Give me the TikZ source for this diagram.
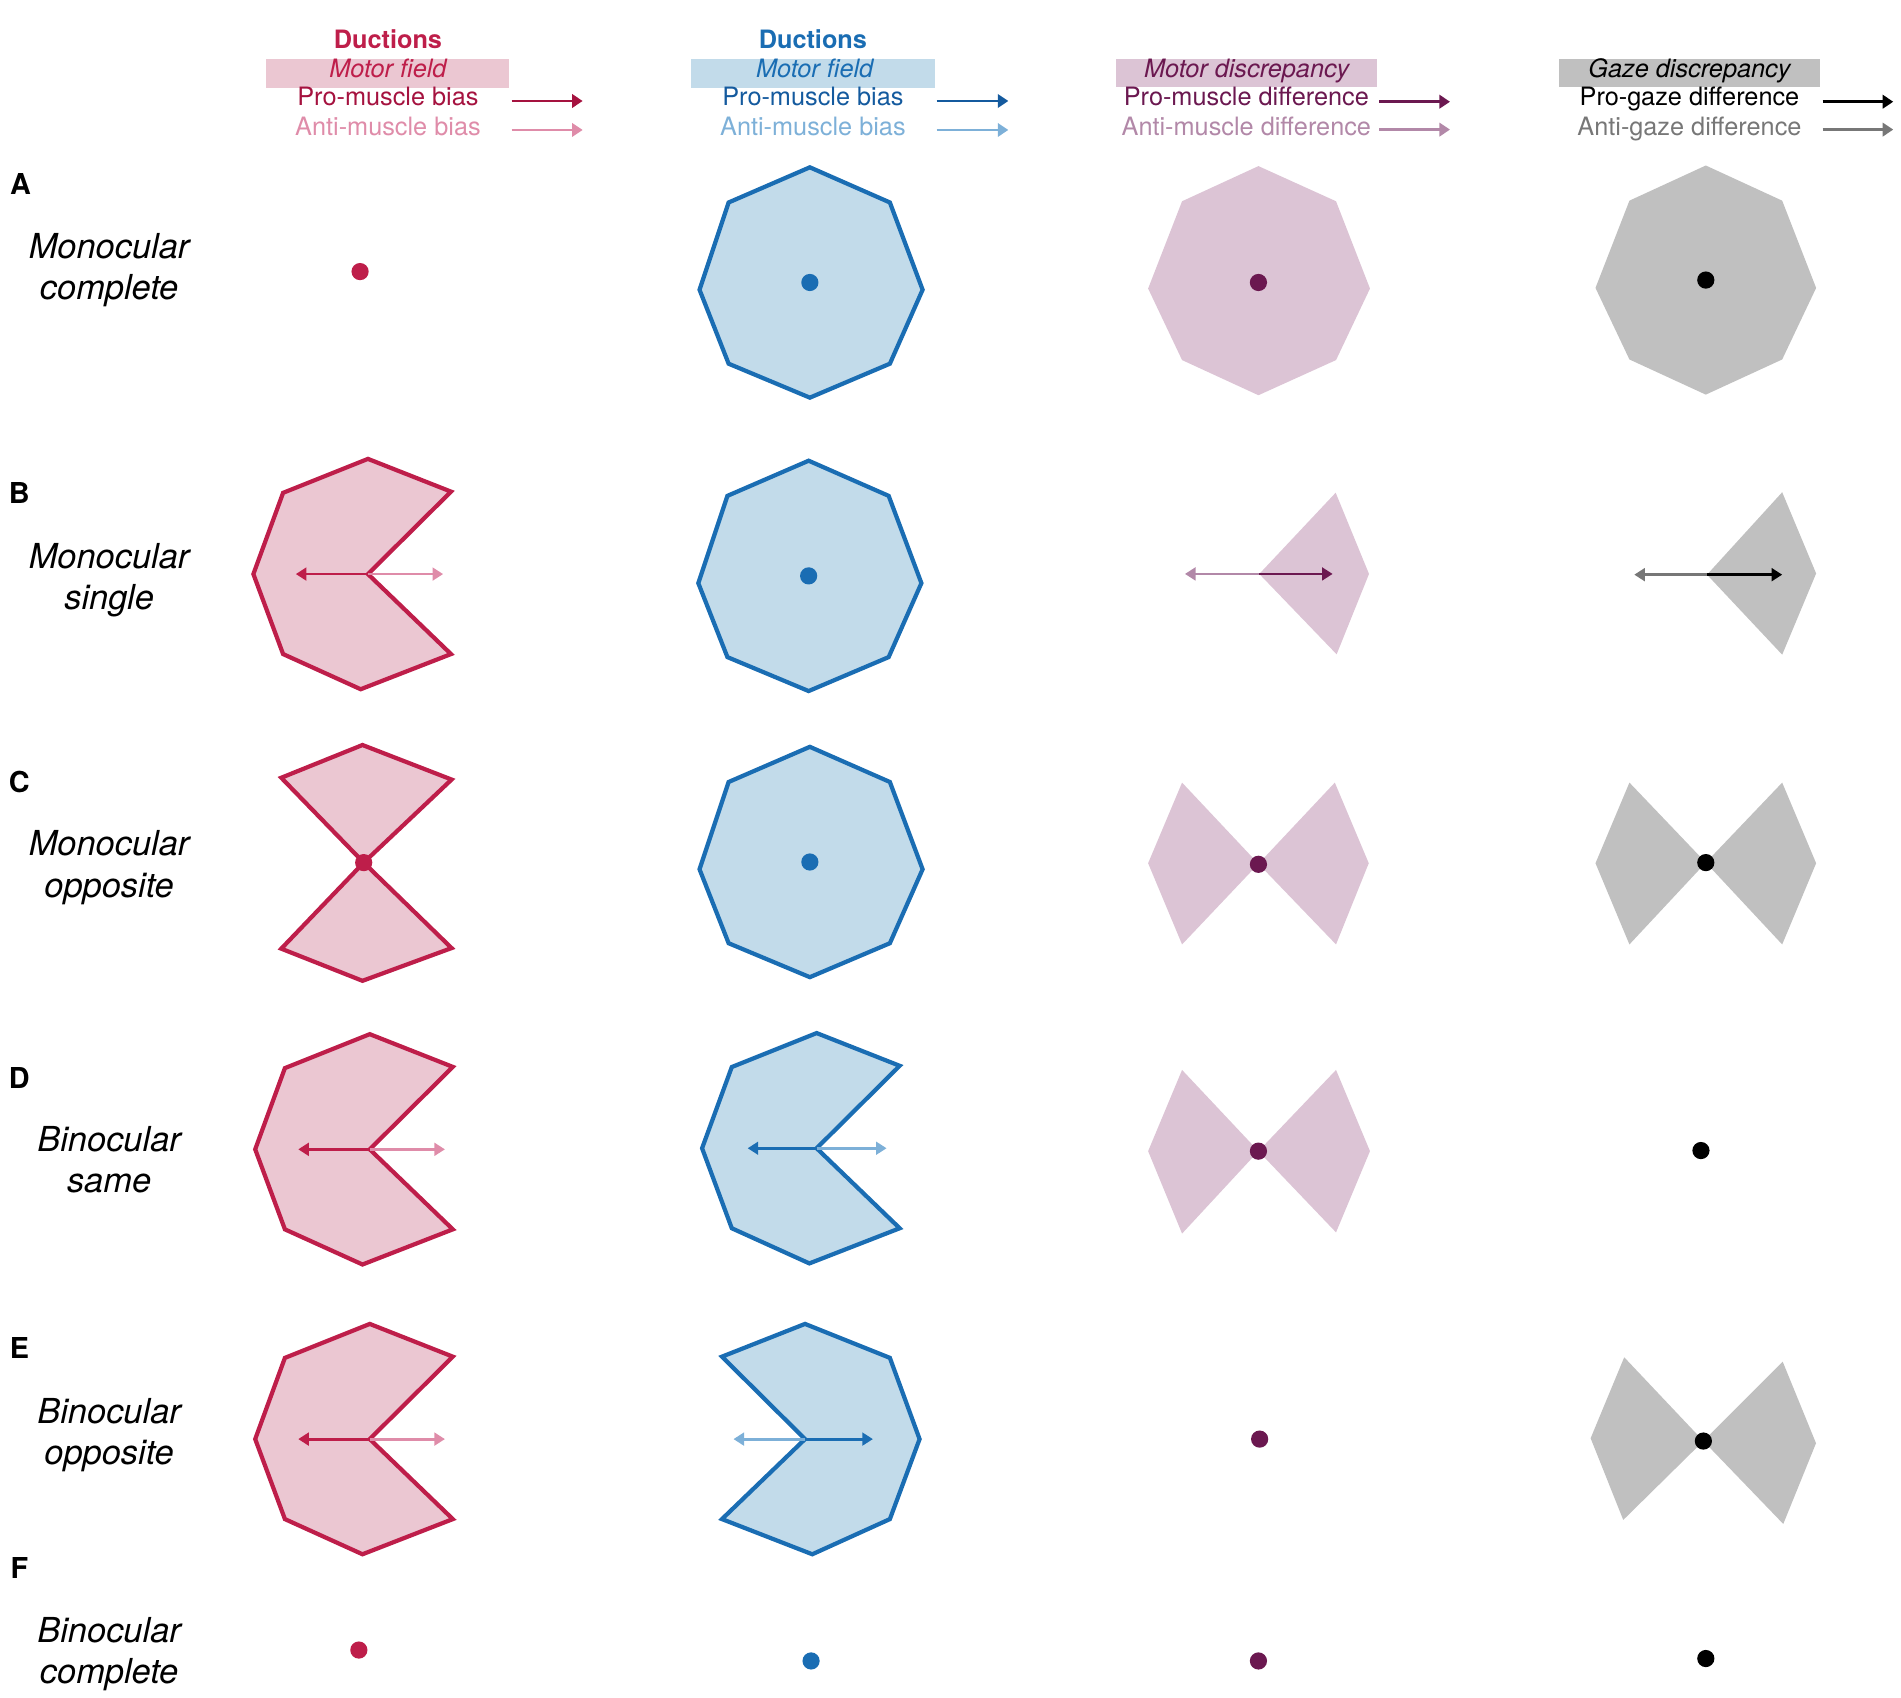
\documentclass[tikz,border=0pt]{standalone}
\usepackage{fontspec}
\setmainfont{TeX Gyre Heros}
\usetikzlibrary{arrows.meta}
\definecolor{crim}{HTML}{BE1E4A}
\definecolor{crimdark}{HTML}{A5123F}
\definecolor{crimlight}{HTML}{DF8CA9}
\definecolor{pinkfill}{HTML}{EBC7D2}
\definecolor{blu}{HTML}{1A6DB3}
\definecolor{bludark}{HTML}{145A9E}
\definecolor{blulight}{HTML}{7DB0D8}
\definecolor{blufill}{HTML}{C2DBEA}
\definecolor{purdark}{HTML}{6B1850}
\definecolor{purlight}{HTML}{B288A8}
\definecolor{purfill}{HTML}{DCC4D5}
\definecolor{gryfill}{HTML}{C0C0C0}
\definecolor{grylight}{HTML}{777777}
\begin{document}
\begin{tikzpicture}[x=0.012124cm,y=-0.012124cm,
  hdr/.style={font=\fontsize{7.2}{8}\selectfont, anchor=base, inner sep=0pt},
  hdrb/.style={hdr, font=\fontsize{7.2}{8}\selectfont\bfseries},
  hdri/.style={hdr, font=\fontsize{7.2}{8}\selectfont\itshape},
  harrow/.style={line width=0.7pt, -{Triangle[length=3pt,width=3.8pt]}},
  sarrow/.style={line width=0.8pt, -{Triangle[length=3pt,width=3.6pt]}},
  rowlet/.style={font=\fontsize{8.2}{9}\selectfont\bfseries, inner sep=0pt},
  rowlab/.style={font=\fontsize{9.8}{11}\selectfont\itshape, anchor=base, inner sep=0pt},
  crimshape/.style={draw=crim, fill=pinkfill, line width=1.2pt},
  blushape/.style={draw=blu, fill=blufill, line width=1.2pt},
  purshape/.style={fill=purfill},
  gryshape/.style={fill=gryfill},
]
\useasboundingbox (0,0) rectangle (1568,1400);

% ---------------- header ----------------
\fill[pinkfill] (219.4,48.7) rectangle (419.8,72.3);
\node[hdrb, text=crim] (h1a) at (320,39.9) {Ductions};
\node[hdri, text=crim] (h1b) at (320,63.8) {Motor field};
\node[hdr, text=crimdark] (h1c) at (320,87.4) {Pro-muscle bias};
\node[hdr, text=crimlight] (h1d) at (320,111.4) {Anti-muscle bias};
\coordinate (h1p0) at (422,83.3); \coordinate (h1p1) at (480.6,83.3);
\coordinate (h1q0) at (422,107.2); \coordinate (h1q1) at (480.6,107.2);
\draw[harrow, crimdark] (h1p0) -- (h1p1);
\draw[harrow, crimlight] (h1q0) -- (h1q1);

\fill[blufill] (569.7,48.7) rectangle (771.2,72.3);
\node[hdrb, text=blu] (h2a) at (670.5,39.9) {Ductions};
\node[hdri, text=blu] (h2b) at (672,63.8) {Motor field};
\node[hdr, text=bludark] (h2c) at (670.5,87.4) {Pro-muscle bias};
\node[hdr, text=blulight] (h2d) at (670.5,111.4) {Anti-muscle bias};
\coordinate (h2p0) at (772.6,83.3); \coordinate (h2p1) at (831.7,83.3);
\coordinate (h2q0) at (772.6,107.2); \coordinate (h2q1) at (831.7,107.2);
\draw[harrow, bludark] (h2p0) -- (h2p1);
\draw[harrow, blulight] (h2q0) -- (h2q1);

\fill[purfill] (920.5,48.9) rectangle (1135.5,72);
\node[hdri, text=purdark] (h3b) at (1028.3,63.8) {Motor discrepancy};
\node[hdr, text=purdark] (h3c) at (1028,87.4) {Pro-muscle difference};
\node[hdr, text=purlight] (h3d) at (1028,111.4) {Anti-muscle difference};
\coordinate (h3p0) at (1137.7,83.9); \coordinate (h3p1) at (1196,83.9);
\coordinate (h3q0) at (1137.7,106.9); \coordinate (h3q1) at (1196,106.9);
\draw[harrow, purdark] (h3p0) -- (h3p1);
\draw[harrow, purlight] (h3q0) -- (h3q1);

\fill[gryfill] (1286,48.9) rectangle (1501,72);
\node[hdri, text=black] (h4b) at (1393.5,63.8) {Gaze discrepancy};
\node[hdr, text=black] (h4c) at (1393.5,87.4) {Pro-gaze difference};
\node[hdr, text=grylight] (h4d) at (1393.5,111.4) {Anti-gaze difference};
\coordinate (h4p0) at (1503.3,83.9); \coordinate (h4p1) at (1561.6,83.9);
\coordinate (h4q0) at (1503.3,106.9); \coordinate (h4q1) at (1561.6,106.9);
\draw[harrow, black] (h4p0) -- (h4p1);
\draw[harrow, grylight] (h4q0) -- (h4q1);

% ---------------- row labels ----------------
\node[rowlet] (lA) at (17,152) {A};
\node[rowlab] (lA1) at (90,213) {Monocular};
\node[rowlab] (lA2) at (90,247) {complete};
\node[rowlet] (lB) at (16,407) {B};
\node[rowlab] (lB1) at (90,469) {Monocular};
\node[rowlab] (lB2) at (90,503) {single};
\node[rowlet] (lC) at (16,645) {C};
\node[rowlab] (lC1) at (90,706) {Monocular};
\node[rowlab] (lC2) at (90,740) {opposite};
\node[rowlet] (lD) at (16,889) {D};
\node[rowlab] (lD1) at (90,950) {Binocular};
\node[rowlab] (lD2) at (90,984) {same};
\node[rowlet] (lE) at (16,1112) {E};
\node[rowlab] (lE1) at (90,1174) {Binocular};
\node[rowlab] (lE2) at (90,1208) {opposite};
\node[rowlet] (lF) at (16,1293) {F};
\node[rowlab] (lF1) at (90,1355) {Binocular};
\node[rowlab] (lF2) at (90,1389) {complete};

% ---------------- column 1 (crimson) ----------------
\fill[crim] (297,224) circle (2.45pt);
% B
\begin{scope}[shift={(303.5,473.5)}]
\filldraw[crimshape] (0,-95) -- (-70,-67) -- (-94.5,0) -- (-70,66) -- (-6,95) -- (68.5,66) -- (0,0) -- (68.5,-68) -- cycle;
\end{scope}
\coordinate (c1b) at (303.5,473.5); \coordinate (c1bl) at (244,473.5); \coordinate (c1br) at (365.5,473.5);
\draw[sarrow, crim] (c1b) -- (c1bl);
\draw[sarrow, crimlight] (c1b) -- (c1br);
% C
\begin{scope}[shift={(300,711.5)}]
\filldraw[crimshape] (0,0) -- (72.5,-68.5) -- (-1,-97) -- (-68,-70) -- (0,0) -- (-68,71) -- (-1,97.5) -- (72.5,70.5) -- cycle;
\end{scope}
\fill[crim] (300,711.5) circle (2.45pt);
% D
\begin{scope}[shift={(305,948)}]
\filldraw[crimshape] (0,-95) -- (-70,-67) -- (-94.5,0) -- (-70,66) -- (-6,95) -- (68.5,66) -- (0,0) -- (68.5,-68) -- cycle;
\end{scope}
\coordinate (c1d) at (305,948); \coordinate (c1dl) at (246,948); \coordinate (c1dr) at (367,948);
\draw[sarrow, crim] (c1d) -- (c1dl);
\draw[sarrow, crimlight] (c1d) -- (c1dr);
% E
\begin{scope}[shift={(305,1187)}]
\filldraw[crimshape] (0,-95) -- (-70,-67) -- (-94.5,0) -- (-70,66) -- (-6,95) -- (68.5,66) -- (0,0) -- (68.5,-68) -- cycle;
\end{scope}
\coordinate (c1e) at (305,1187); \coordinate (c1el) at (246,1187); \coordinate (c1er) at (367,1187);
\draw[sarrow, crim] (c1e) -- (c1el);
\draw[sarrow, crimlight] (c1e) -- (c1er);
% F
\fill[crim] (296,1361) circle (2.45pt);

% ---------------- column 2 (blue) ----------------
\begin{scope}[shift={(668,233)}]
\filldraw[blushape] (0,-95) -- (66,-66) -- (93,6) -- (66,67) -- (0,95) -- (-67,67) -- (-91,6) -- (-67,-66) -- cycle;
\end{scope}
\fill[blu] (668,233) circle (2.45pt);
\begin{scope}[shift={(667,475)}]
\filldraw[blushape] (0,-95) -- (66,-66) -- (93,6) -- (66,67) -- (0,95) -- (-67,67) -- (-91,6) -- (-67,-66) -- cycle;
\end{scope}
\fill[blu] (667,475) circle (2.45pt);
\begin{scope}[shift={(668,711)}]
\filldraw[blushape] (0,-95) -- (66,-66) -- (93,6) -- (66,67) -- (0,95) -- (-67,67) -- (-91,6) -- (-67,-66) -- cycle;
\end{scope}
\fill[blu] (668,711) circle (2.45pt);
% D
\begin{scope}[shift={(673.6,947.1)}]
\filldraw[blushape] (0,-95) -- (-70,-67) -- (-94.5,0) -- (-70,66) -- (-6,95) -- (68.5,66) -- (0,0) -- (68.5,-68) -- cycle;
\end{scope}
\coordinate (c2d) at (673.6,947.1); \coordinate (c2dl) at (616.7,947.1); \coordinate (c2dr) at (731.3,947.1);
\draw[sarrow, blu] (c2d) -- (c2dl);
\draw[sarrow, blulight] (c2d) -- (c2dr);
% E (mirrored)
\begin{scope}[shift={(664,1187)}, xscale=-1]
\filldraw[blushape] (0,-95) -- (-70,-67) -- (-94.5,0) -- (-70,66) -- (-6,95) -- (68.5,66) -- (0,0) -- (68.5,-68) -- cycle;
\end{scope}
\coordinate (c2e) at (664,1187); \coordinate (c2el) at (605,1187); \coordinate (c2er) at (720,1187);
\draw[sarrow, blu] (c2e) -- (c2er);
\draw[sarrow, blulight] (c2e) -- (c2el);
% F
\fill[blu] (669,1370) circle (2.45pt);

% ---------------- column 3 (purple) ----------------
\begin{scope}[shift={(1038,232)}]
\fill[purshape] (0,-95) -- (64,-66) -- (92,6) -- (64,65) -- (0,94) -- (-63,65) -- (-91,6) -- (-63,-66) -- cycle;
\end{scope}
\fill[purdark] (1038,233) circle (2.45pt);
% B kite
\fill[purshape] (1038.7,473.4) -- (1101.7,406.4) -- (1129.2,473.4) -- (1102.5,539.7) -- cycle;
\coordinate (c3b) at (1038.7,473.4); \coordinate (c3bl) at (977.4,473.4); \coordinate (c3br) at (1099.2,473.4);
\draw[sarrow, purlight] (c3b) -- (c3bl);
\draw[sarrow, purdark] (c3b) -- (c3br);
% C bowtie
\begin{scope}[shift={(1038,712.5)}]
\fill[purshape] (0,0) -- (-63,-67) -- (-91,-0.5) -- (-63,66.5) -- cycle;
\fill[purshape] (0,0) -- (63,-67) -- (91,-0.5) -- (64,66.5) -- cycle;
\end{scope}
\fill[purdark] (1038,712.9) circle (2.45pt);
% D bowtie
\begin{scope}[shift={(1038,949.5)}]
\fill[purshape] (0,0) -- (-63,-67) -- (-91,0) -- (-63,68) -- cycle;
\fill[purshape] (0,0) -- (64,-67) -- (92,0) -- (64,67) -- cycle;
\end{scope}
\fill[purdark] (1038,949.5) circle (2.45pt);
\fill[purdark] (1039,1187) circle (2.45pt);
\fill[purdark] (1038,1370) circle (2.45pt);

% ---------------- column 4 (gray) ----------------
\begin{scope}[shift={(1407,231.5)}]
\fill[gryshape] (0,-95) -- (63,-66) -- (91,6) -- (63,65) -- (0,94) -- (-63,65) -- (-91,6) -- (-63,-66) -- cycle;
\end{scope}
\fill[black] (1407,231) circle (2.45pt);
% B kite
\fill[gryshape] (1408,474) -- (1470,406) -- (1498,473) -- (1470,540) -- cycle;
\coordinate (c4b) at (1408,474); \coordinate (c4bl) at (1348,474); \coordinate (c4br) at (1470,474);
\draw[sarrow, grylight] (c4b) -- (c4bl);
\draw[sarrow, black] (c4b) -- (c4br);
% C bowtie
\begin{scope}[shift={(1407,711.5)}]
\fill[gryshape] (0,0) -- (-63,-66) -- (-91,0.5) -- (-63,67.5) -- cycle;
\fill[gryshape] (0,0) -- (63,-66) -- (91,0.5) -- (63,67.5) -- cycle;
\end{scope}
\fill[black] (1407,711.5) circle (2.45pt);
\fill[black] (1403,949) circle (2.45pt);
% E bowtie
\begin{scope}[shift={(1405,1188.6)}]
\fill[gryshape] (0,0) -- (-65.3,-69.1) -- (-93,-2.3) -- (-66.1,65.1) -- cycle;
\fill[gryshape] (0,0) -- (65.4,-65.5) -- (92.9,1.8) -- (65.9,68.4) -- cycle;
\end{scope}
\fill[black] (1405,1188.6) circle (2.45pt);
\fill[black] (1407,1368) circle (2.45pt);
\end{tikzpicture}
\end{document}
